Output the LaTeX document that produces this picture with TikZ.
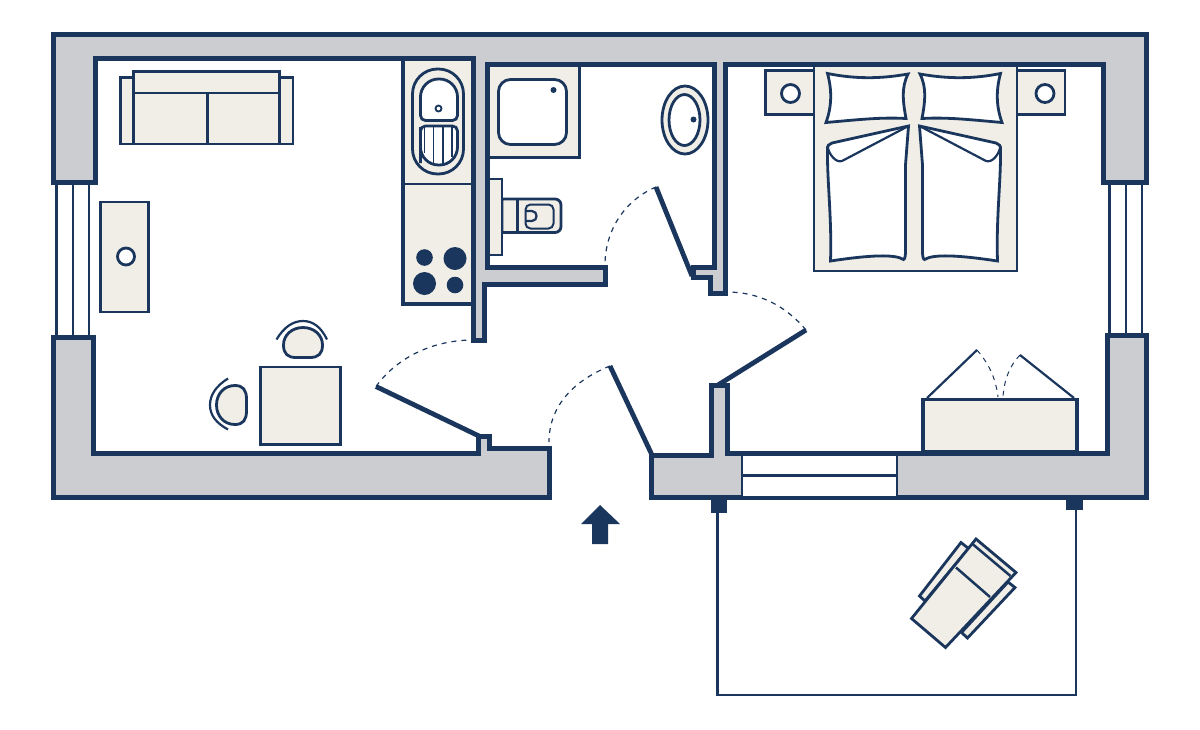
\documentclass[tikz,border=0pt]{standalone}
\usepackage{xcolor}
\definecolor{navyLine}{HTML}{1B365D}
\definecolor{wallGray}{HTML}{CCCDD1}
\definecolor{furnBeige}{HTML}{F0EEE6}
\tikzset{
    wallshape/.style={draw=navyLine,fill=wallGray,line width=2.5pt},
    furn/.style={draw=navyLine,fill=furnBeige,line width=1.4pt},
    furnwhite/.style={draw=navyLine,fill=white,line width=1.4pt},
    thinline/.style={draw=navyLine,line width=1.1pt},
    doorleaf/.style={draw=navyLine,line width=2.4pt},
    doorswing/.style={draw=navyLine,line width=0.6pt,dash pattern=on 2.5pt off 2.5pt},
    solidnavy/.style={fill=navyLine,draw=none}
}
\begin{document}
\begin{tikzpicture}[x=0.5pt,y=-0.5pt]
    \useasboundingbox (0,0) rectangle (1200,729);
    % walls
    \def\wallTop{(53,34) -- (1146.5,34) -- (1146.5,182) -- (1103,182) -- (1103,64) -- (725,64) -- (725,293) -- (710,293) -- (710,277) -- (693,277) -- (693,267) -- (714,267) -- (714,64) -- (487,64) -- (487,267) -- (605,267) -- (605,284) -- (484,284) -- (484,340) -- (473,340) -- (473,58) -- (95,58) -- (95,182) -- (53,182) -- cycle}
    \def\wallLeft{(53,337) -- (93,337) -- (93,453) -- (478,453) -- (478,436) -- (489,436) -- (489,448) -- (549,448) -- (549,497) -- (53,497) -- cycle}
    \def\wallRight{(651,455) -- (711.5,455) -- (711.5,385) -- (727,385) -- (727,453) -- (1107,453) -- (1107,335) -- (1146,335) -- (1146,497) -- (651,497) -- cycle}
    % windows
    \draw [thinline] (56.5,182) -- (56.5,337) (73,182) -- (73,337) (89,182) -- (89,337);
    \draw [thinline] (1109.5,182) -- (1109.5,335) (1126,182) -- (1126,335) (1142,182) -- (1142,335);
    % kitchen
    \path [furn,line width=1.75pt] (403,58) rectangle (473,304);
    \draw [thinline] (403,184) -- (473,184);
    \path [furn,rounded corners=12.5pt] (412.5,69) rectangle (463.5,174);
    \path [furnwhite] (420.5,100) [rounded corners=9pt] -- (420.5,79) -- (457.5,79) [rounded corners=2.5pt] -- (457.5,120.5) -- (420.5,120.5) -- cycle;
    \draw [thinline,line width=0.9pt] (438.5,108.5) circle [radius=3];
    \path [furnwhite] (420.5,145) [rounded corners=2.5pt] -- (420.5,126) -- (457.5,126) [rounded corners=9pt] -- (457.5,165) -- (420.5,165) -- cycle;
    \draw [thinline,line width=0.7pt] (424.5,127) -- (424.5,153) (433.5,127) -- (433.5,164) (443,127) -- (443,164) (452,127) -- (452,157);
    \fill [solidnavy] (424.5,257.5) circle [radius=8.3] (455,258.5) circle [radius=11.5] (424.5,283.5) circle [radius=11.5] (455,285) circle [radius=8.3];
    % sofa
    \path [furn] (120.5,77.5) rectangle (293,144);
    \path [furn] (133.5,71.5) rectangle (279.5,93);
    \path [furn] (133.5,93) rectangle (207.5,144);
    \path [furn] (207.5,93) rectangle (279.5,144);
    % side table
    \path [furn] (100.5,202) rectangle (148.5,312);
    \path [furnwhite] (126,256.5) circle [radius=8.5];
    % dining table and chairs
    \path [furn] (260.5,367) rectangle (340.5,444.5);
    \path [furn] (283.5,345) .. controls (283.5,335) and (292,327.5) .. (303,327.5) .. controls (314,327.5) and (322.5,335) .. (322.5,345) .. controls (322.5,354) and (318,357.5) .. (310,357.5) -- (296,357.5) .. controls (288,357.5) and (283.5,354) .. (283.5,345);
    \draw [thinline] (276.5,339.5) .. controls (284,327) and (293,321) .. (303,321) .. controls (313,321) and (321,327) .. (327,339.5);
    \path [furn] (235,385.5) .. controls (224,385.5) and (216.5,394) .. (216.5,405) .. controls (216.5,416) and (224,424.5) .. (235,424.5) .. controls (243,424.5) and (246.5,420) .. (246.5,411) -- (246.5,399) .. controls (246.5,390) and (243,385.5) .. (235,385.5);
    \draw [thinline] (228,378.5) .. controls (216,386) and (210,395) .. (210,405) .. controls (210,415) and (216,423) .. (228,429.5);
    % bathroom
    \path [furn] (489,66) rectangle (579.5,157.5);
    \path [furnwhite,rounded corners=6pt] (498.5,79.5) rectangle (566.5,144.5);
    \fill [solidnavy] (553.5,90) circle [radius=3];
    \path [furn] (685,120) circle [x radius=23,y radius=34];
    \path [furnwhite] (684.5,120) circle [x radius=15.5,y radius=25.5];
    \fill [solidnavy] (693.5,119.5) circle [radius=3];
    \path [furn] (502,199) -- (502,232.5) -- (555,232.5) [rounded corners=3pt] -- (561,232.5) -- (561,199) [sharp corners] -- (555,199) -- cycle;
    \draw [thinline] (517.5,199) -- (517.5,232.5);
    \path [furn,line width=1pt,rounded corners=2.5pt] (525.5,204.5) rectangle (553.5,228.5);
    \draw [thinline] (526,211) -- (532,211) .. controls (538,211) and (538,221) .. (532,221) -- (526,221);
    \path [furn] (489,179) rectangle (502,255);
    % bed
    \path [furn] (765.5,70.5) rectangle (814,114.5);
    \path [furn] (1017,70.5) rectangle (1065,114.5);
    \path [furnwhite] (790.5,93.5) circle [radius=9];
    \path [furnwhite] (1045,93.5) circle [radius=9];
    \path [furn] (814,64) rectangle (1017,271);
    \foreach \side/\shiftVal/\flipVal in {left/0pt/1,right/914pt/-1} {
        \begin{scope}[xshift=\shiftVal,xscale=\flipVal]
            \path [furnwhite] (827.5,73.5) .. controls (855,79) and (880,79) .. (908,74) .. controls (901,88) and (903,102) .. (906,118.5) .. controls (880,117) and (855,120) .. (826,122.5) .. controls (832,106) and (832,90) .. (827.5,73.5) -- cycle;
            \path [furnwhite] (908.5,126) -- (905.5,165) -- (905.5,250) .. controls (905.5,256) and (905,259) .. (903.5,259.5) .. controls (895,254) and (870,255) .. (830.5,261) .. controls (832,220) and (827,180) .. (827.5,150) .. controls (827,146) and (829,143.5) .. (832,143) -- cycle;
            \draw [thinline] (908.5,126) -- (842,161) .. controls (836,163) and (829,155) .. (827.5,146);
        \end{scope}
    }
    % wardrobe
    \path [furn,line width=1.6pt] (923,399.5) rectangle (1077,452);
    \draw [thinline] (927,398) -- (977,350);
    \draw [thinline] (1074,398) -- (1020,355);
    \draw [doorswing,line width=0.5pt] (977,350) .. controls (990,365) and (996,380) .. (998,397);
    \draw [doorswing,line width=0.5pt] (1020,355) .. controls (1010,365) and (1004,380) .. (1003,397);
    % wall shapes over the furniture edges
    \path [wallshape] \wallTop;
    \path [wallshape] \wallLeft;
    \path [wallshape] \wallRight;
    % balcony door
    \path [fill=white] (742,455.5) rectangle (897,497);
    \draw [thinline] (742,454) -- (742,498) (897,454) -- (897,498);
    \draw [thinline] (742,475.5) -- (897,475.5);
    \draw [draw=navyLine,line width=1.25pt] (742,497.5) -- (897,497.5);
    % doors
    \draw [doorleaf] (376,386.5) -- (479,436);
    \draw [doorswing] (376,386.5) .. controls (398,356) and (435,340) .. (473,340);
    \draw [doorleaf] (610,366) -- (652,455);
    \draw [doorswing] (610,366) .. controls (575,380) and (549,405) .. (549,442);
    \draw [doorleaf] (806,330) -- (718,385);
    \draw [doorswing] (806,330) .. controls (785,305) and (758,292) .. (727,292);
    \draw [doorleaf] (656,187) -- (692,276);
    \draw [doorswing] (656,187) .. controls (625,200) and (605,230) .. (605,265);
    % entry arrow
    \fill [solidnavy] (600,505) -- (620,524) -- (608,524) -- (608,544) -- (592,544) -- (592,524) -- (581,524) -- cycle;
    % balcony
    \draw [draw=navyLine,line width=1.1pt] (717.5,510) -- (717.5,695) -- (1076,695) -- (1076,508);
    \fill [solidnavy] (711,499) rectangle (727,513);
    \fill [solidnavy] (1066,499) rectangle (1083,510);
    % lounge chair
    \path [furn] (919.5,596) -- (961,542.5) -- (968.5,548.5) -- (925,601) -- cycle;
    \path [furn] (1015,587.5) -- (1008,582) -- (961.5,632.5) -- (967.5,638) -- cycle;
    \path [furn] (911.5,618.5) -- (945.5,647.5) -- (1016,572.5) -- (976,539) -- cycle;
    \draw [draw=navyLine,line width=1.25pt] (972.5,544) -- (1010.5,576);
    \draw [draw=navyLine,line width=1.25pt] (956,567.5) -- (990,597);
\end{tikzpicture}
\end{document}
